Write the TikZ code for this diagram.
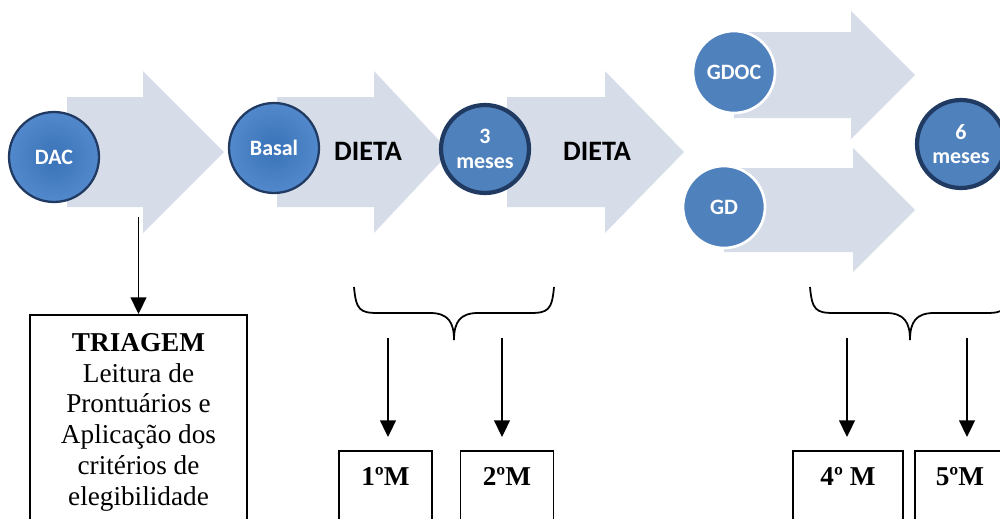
\documentclass[tikz,border=0pt]{standalone}
\usepackage{fontspec}
\setmainfont{Liberation Serif}
\newfontfamily\calib{Carlito}
\usepackage{tikz}
\usetikzlibrary{arrows.meta,positioning,calc}
\definecolor{arrowfill}{RGB}{214,221,233}
\definecolor{ballblue}{RGB}{79,129,189}
\definecolor{glossblue}{RGB}{63,124,199}
\definecolor{balledge}{RGB}{33,58,98}

\begin{document}
\begin{tikzpicture}[x=0.02cm,y=-0.02cm,
  ball/.style={circle,inner sep=0pt,align=center,text=white,font=\calib\bfseries\fontsize{12.5}{14}\selectfont},
  glossy/.style={ball,minimum size=1.8cm,inner color=glossblue!92!black,outer color=glossblue!90!white,draw=balledge,line width=1.3pt},
  ringed/.style={ball,minimum size=1.76cm,fill=ballblue,draw=balledge,line width=2.4pt},
  flat/.style={ball,minimum size=1.64cm,fill=ballblue,draw=white,line width=1.5pt},
  dieta/.style={font=\calib\bfseries\fontsize{16}{18}\selectfont,inner sep=0pt},
  box/.style={draw,line width=1pt,anchor=north,align=center,font=\fontsize{15.5}{17.6}\selectfont},
  mbox/.style={box,font=\bfseries\fontsize{15.5}{17.6}\selectfont,inner sep=0pt,text height=0.7cm,text depth=1.5cm},
  conn/.style={line width=1pt,-{Triangle[length=9.5pt,width=9pt]}}]
\useasboundingbox (0,0) rectangle (1000,518);
\clip (0,0) rectangle (1000,518);
\foreach \xl/\xh/\xt/\yc/\bh/\hh in {67/143/224/152/55/81,277/374/450/152/55/81,507/605/684/152/55/81,734/851/915/75/43/64,724/853/915/210/42/62}
  \fill[arrowfill] (\xl,\yc-\bh) -- (\xh,\yc-\bh) -- (\xh,\yc-\hh) -- (\xt,\yc) -- (\xh,\yc+\hh) -- (\xh,\yc+\bh) -- (\xl,\yc+\bh) -- cycle;
\node[glossy] (dac) at (54,157) {DAC};
\node[glossy] (basal) at (274,148) {Basal};
\node[ringed] (tres) at (485,149) {3\\meses};
\node[flat] (gdoc) at (734,72) {GDOC};
\node[flat] (gd) at (724,207) {GD};
\node[ringed] (seis) at (961,144) {6\\meses};
\node[dieta] (dieta1) at (368,151) {DIETA};
\node[dieta] (dieta2) at (597,151) {DIETA};

\node[box,minimum width=4.34cm,minimum height=4.3cm] (triagem) at (138.5,314) {\textbf{TRIAGEM}\\Leitura de\\Prontuários e\\Aplicação dos\\critérios de\\elegibilidade};
\node[mbox,minimum width=1.86cm] (m1) at (385.5,450) {1ºM};
\node[mbox,minimum width=1.86cm] (m2) at (507,450) {2ºM};
\node[mbox,minimum width=2.2cm] (m4) at (848,450) {4º M};
\node[mbox,minimum width=1.8cm] (m5) at (960,450) {5ºM};

\coordinate (drop) at (138.5,217);
\draw[conn] (drop) -- (triagem.north);
\foreach \c in {454,910}{
  \draw[line width=1pt] (\c-100,287) .. controls (\c-98,310) and (\c-94,313) .. (\c-76,313) -- (\c-24,313) .. controls (\c-6,313) and (\c,322) .. (\c,340);
  \draw[line width=1pt] (\c+100,287) .. controls (\c+98,310) and (\c+94,313) .. (\c+76,313) -- (\c+24,313) .. controls (\c+6,313) and (\c,322) .. (\c,340);
}
\foreach \x/\b in {388/m1,502/m2,847/m4,967/m5}{
  \coordinate (s\b) at (\x,338);
  \draw[conn,shorten >=0.26cm] (s\b) -- (s\b |- \b.north);
}
\end{tikzpicture}
\end{document}
